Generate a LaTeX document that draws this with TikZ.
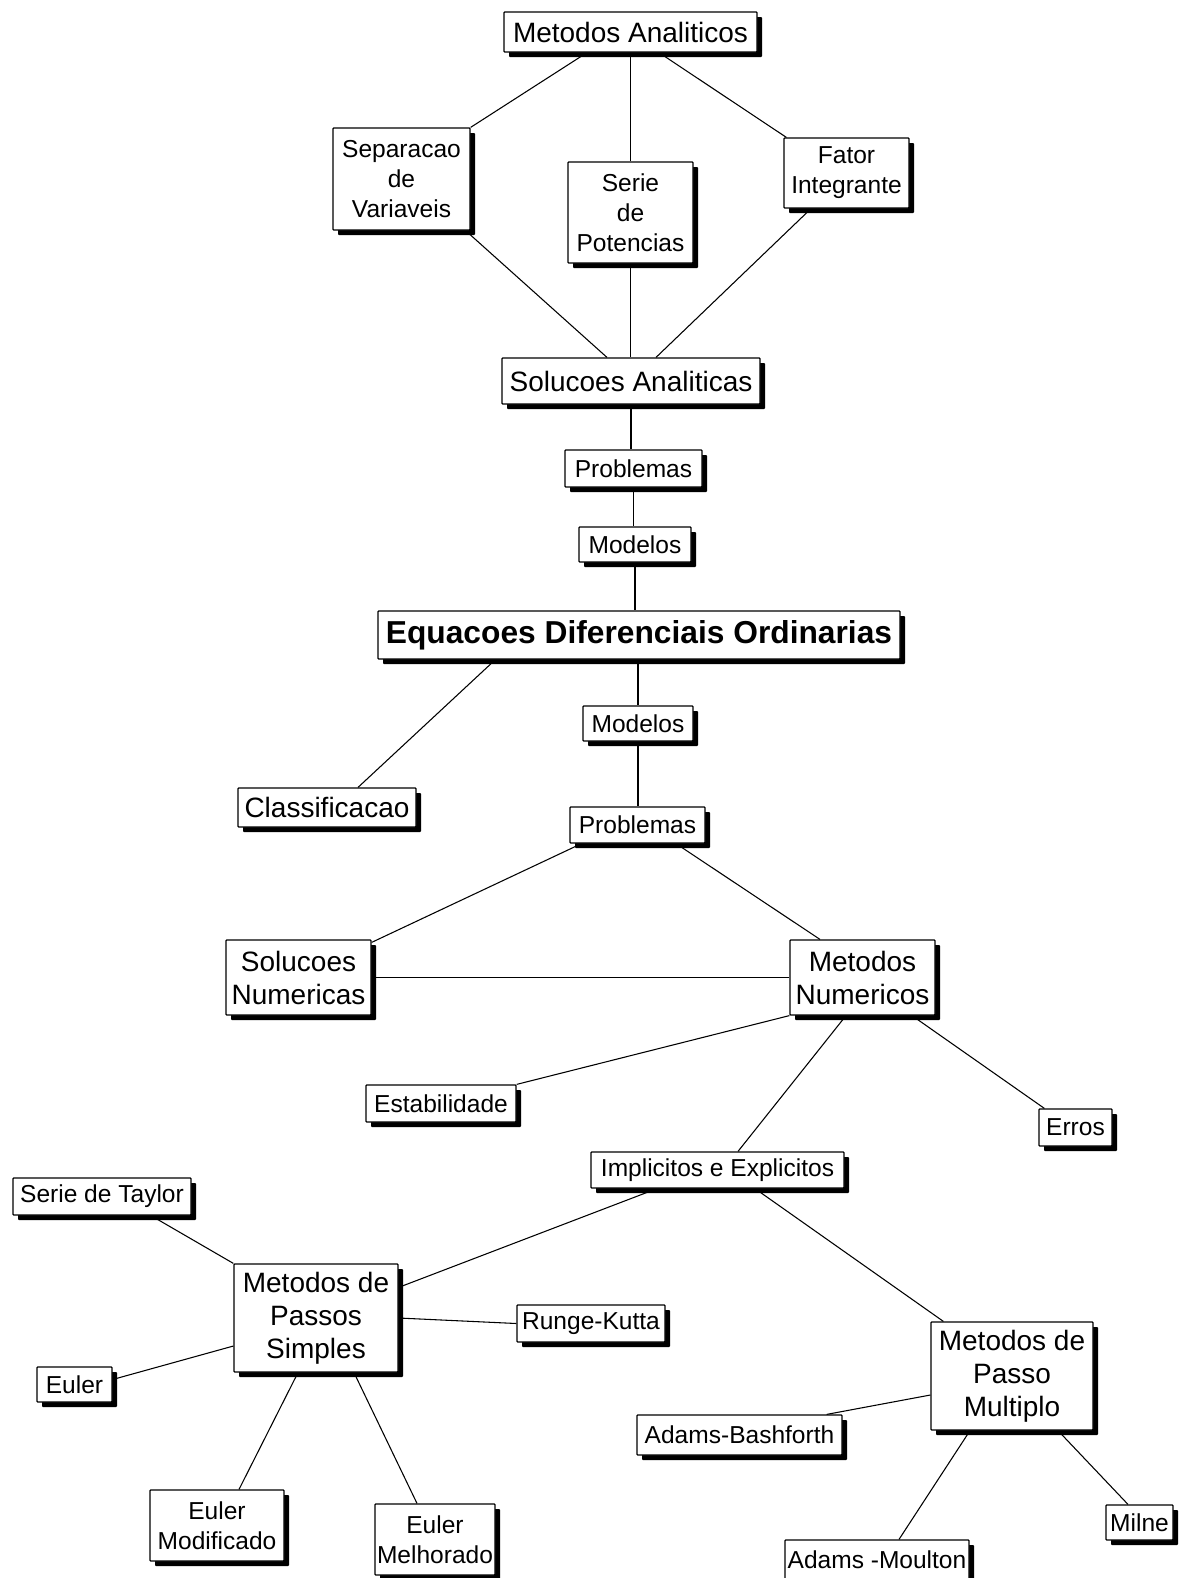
\documentclass[tikz,border=0pt]{standalone}
\usepackage{fontspec}
\setmainfont{Liberation Sans}
\usetikzlibrary{shadows,calc}
\pgfdeclarelayer{bg}
\pgfsetlayers{bg,main}
\newcommand\fsm{\fontsize{18.4pt}{22.5pt}\selectfont}
\newcommand\fbg{\fontsize{21pt}{24.75pt}\selectfont}
\newcommand\fedo{\fontsize{23.8pt}{28pt}\selectfont\bfseries}
\begin{document}
\begin{tikzpicture}[x=0.75pt,y=-0.75pt,
 box/.style={draw=black, line width=0.9pt, fill=white, rectangle, inner sep=0pt, align=center, rounded corners=0.6pt,
   drop shadow={shadow xshift=3.75pt, shadow yshift=-3.75pt, fill=black, opacity=1}},
 wh/.style 2 args={minimum width=#1*0.75pt, minimum height=#2*0.75pt},
 boxsmall/.style={box, font=\fsm},
 boxbig/.style={box, font=\fbg},
 link/.style={line width=0.8pt, draw=black}]
\useasboundingbox (0,0) rectangle (1186,1578);

\node[boxbig, wh={253}{40}] (MA) at (630.5,32) {Metodos Analiticos};
\node[boxsmall, wh={137}{102}] (Sep) at (401.5,179) {Separacao\\de\\Variaveis};
\node[boxsmall, wh={125}{101}] (Ser) at (630.5,212.5) {Serie\\de\\Potencias};
\node[boxsmall, wh={125}{70}] (Fat) at (846.5,173) {Fator\\Integrante};
\node[boxbig, wh={258}{46}] (SA) at (631,381) {Solucoes Analiticas};
\node[boxsmall, wh={137}{37}] (P1) at (633.5,468.5) {Problemas};
\node[boxsmall, wh={112}{35}] (M1) at (635,544.5) {Modelos};
\node[box, font=\fedo, wh={522}{48}] (EDO) at (639,635) {Equacoes Diferenciais Ordinarias};
\node[boxsmall, wh={110}{35}] (M2) at (638,723.5) {Modelos};
\node[boxbig, wh={178}{39}] (Cl) at (327,807.5) {Classificacao};
\node[boxsmall, wh={135}{36}] (P2) at (637.5,825) {Problemas};
\node[boxbig, wh={145}{75}] (SN) at (298.5,977.5) {Solucoes\\Numericas};
\node[boxbig, wh={145}{75}] (MN) at (862.5,977.5) {Metodos\\Numericos};
\node[boxsmall, wh={150}{37}] (Est) at (441,1103.5) {Estabilidade};
\node[boxsmall, wh={73}{37}] (Err) at (1075.5,1127.5) {Erros};
\node[boxsmall, wh={253}{36}] (Imp) at (717.5,1170) {Implicitos e Explicitos};
\node[boxsmall, wh={178}{37}] (Tay) at (102,1196.5) {Serie de Taylor};
\node[boxbig, wh={164}{108}] (MPS) at (316,1318) {Metodos de\\Passos\\Simples};
\node[boxsmall, wh={148}{37}] (RK) at (591,1323.5) {Runge-Kutta};
\node[boxsmall, wh={75}{35}] (Eu) at (74.5,1384.5) {Euler};
\node[boxbig, wh={162}{108}] (MPM) at (1012,1376) {Metodos de\\Passo\\Multiplo};
\node[boxsmall, wh={205}{40}] (AB) at (739.5,1435) {Adams-Bashforth};
\node[boxsmall, wh={134}{71}] (EMo) at (217,1525.5) {Euler\\Modificado};
\node[boxsmall, wh={120}{71}] (EMe) at (435,1539.5) {Euler\\Melhorado};
\node[boxsmall, wh={184}{40}] (AM) at (877,1560) {Adams -Moulton};
\node[boxsmall, wh={67}{35}] (Mil) at (1139.5,1522.5) {Milne};

\begin{pgfonlayer}{bg}
\fill[white] (0,0) rectangle (1186,1578);
\draw[link] ($(MA.south)+(-43.5,0)$) -- (Sep.north east);
\draw[link] (MA.south) -- (Ser.north);
\draw[link] ($(MA.south)+(28.5,0)$) -- ($(Fat.north west)+(3,0)$);
\draw[link] ($(Sep.south east)+(-5,0)$) -- ($(SA.north)+(-24,0)$);
\draw[link] (Ser.south) -- (Ser.south|-SA.north);
\draw[link] ($(Fat.south)+(-35.5,0)$) -- ($(SA.north)+(25,0)$);
\draw[link] (SA.south) -- (SA.south|-P1.north);
\draw[link] (P1.south) -- (P1.south|-M1.north);
\draw[link] (M1.south) -- (M1.south|-EDO.north);
\draw[link] (M2.north|-EDO.south) -- (M2.north);
\draw[link] ($(EDO.south west)+(118,0)$) -- ($(Cl.north)+(31,0)$);
\draw[link] (M2.south) -- (M2.south|-P2.north);
\draw[link] ($(P2.south)+(-56,0)$) -- ($(SN.north east)+(0,3)$);
\draw[link] ($(P2.south)+(38.5,0)$) -- ($(MN.north)+(-42.5,0)$);
\draw[link] (SN.east) -- (MN.west);
\draw[link] (MN.south west) -- (Est.north east);
\draw[link] ($(MN.south)+(-16.5,0)$) -- ($(Imp.north)+(20.5,0)$);
\draw[link] ($(MN.south)+(49.5,0)$) -- ($(Err.north west)+(6,0)$);
\draw[link] ($(Imp.south)+(-60.5,0)$) -- ($(MPS.north east)+(0,24)$);
\draw[link] ($(Imp.south)+(37.5,0)$) -- ($(MPM.north west)+(13,0)$);
\draw[link] ($(Tay.south)+(49,0)$) -- (MPS.north west);
\draw[link] (MPS.east) -- (RK.west);
\draw[link] ($(MPS.west)+(0,28)$) -- ($(Eu.east)+(0,-5)$);
\draw[link] ($(MPS.south)+(-18,0)$) -- ($(EMo.north)+(22,0)$);
\draw[link] ($(MPS.south)+(38,0)$) -- ($(EMe.north)+(-18,0)$);
\draw[link] ($(MPM.west)+(0,19)$) -- ($(AB.north east)+(-16,0)$);
\draw[link] ($(MPM.south)+(-42,0)$) -- ($(AM.north)+(22,0)$);
\draw[link] ($(MPM.south)+(46,0)$) -- ($(Mil.north)+(-11.5,0)$);
\end{pgfonlayer}
\end{tikzpicture}
\end{document}
